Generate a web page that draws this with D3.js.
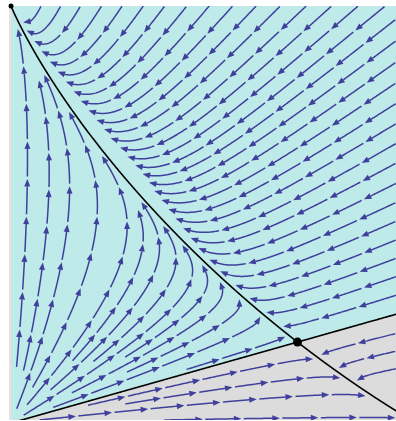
<!DOCTYPE html>
<html><head><meta charset="utf-8">
<script src="https://cdn.jsdelivr.net/npm/d3@7"></script>
<style>html,body{margin:0;padding:0;background:#fff;}svg{display:block}</style>
</head><body>
<script>
// Competitive Lotka–Volterra system
//   x' = x (growth[0] - competition[0][0] x - competition[0][1] y)
//   y' = y (growth[1] - competition[1][0] x - competition[1][1] y)
const growth = [1, 1];
const competition = [[0.95, 1.51], [1.083, 1]];
const xDomain = [0, 1];
const yDomain = [0, 1];
const attractor = [0, 1];

const colors = { basinA: "#bfeaea", basinB: "#dcdcdc", edge: "#f5dcdc", stream: "#3f3f9c", curve: "#000" };

const W = 396, H = 421;
const box = { left: 11, right: 396, top: 6, bottom: 420 };
const xScale = d3.scaleLinear().domain(xDomain).range([11, 396]);
const yScale = d3.scaleLinear().domain(yDomain).range([423, 6]);

function field(x, y) {
  const [r1, r2] = growth, [[a, b], [c, d]] = competition;
  return [x * (r1 - a * x - b * y), y * (r2 - c * x - d * y)];
}

// interior equilibrium (saddle)
const [[A, B], [C, D]] = competition;
const det = A * D - B * C;
const saddle = [(growth[0] * D - B * growth[1]) / det, (A * growth[1] - C * growth[0]) / det];

// Jacobian at the saddle and its eigenvectors
const J = [[-A * saddle[0], -B * saddle[0]], [-C * saddle[1], -D * saddle[1]]];
const tr = J[0][0] + J[1][1], dt = J[0][0] * J[1][1] - J[0][1] * J[1][0];
const disc = Math.sqrt(tr * tr / 4 - dt);
const lamU = tr / 2 + disc, lamS = tr / 2 - disc;
function eig(l) { const v = [-J[0][1], J[0][0] - l]; const m = Math.hypot(v[0], v[1]); return [v[0] / m, v[1] / m]; }
const vU = eig(lamU), vS = eig(lamS);

function rk4(p, h) {
  const f = (q) => field(q[0], q[1]);
  const k1 = f(p);
  const k2 = f([p[0] + h / 2 * k1[0], p[1] + h / 2 * k1[1]]);
  const k3 = f([p[0] + h / 2 * k2[0], p[1] + h / 2 * k2[1]]);
  const k4 = f([p[0] + h * k3[0], p[1] + h * k3[1]]);
  return [p[0] + h / 6 * (k1[0] + 2 * k2[0] + 2 * k3[0] + k4[0]), p[1] + h / 6 * (k1[1] + 2 * k2[1] + 2 * k3[1] + k4[1])];
}
function manifold(dir, sign) {
  const pts = [saddle.slice()];
  let p = [saddle[0] + 1e-4 * dir[0], saddle[1] + 1e-4 * dir[1]];
  for (let i = 0; i < 20000; i++) {
    pts.push(p);
    p = rk4(p, sign * 0.01);
    if (p[0] < -0.05 || p[0] > 1.1 || p[1] < -0.05 || p[1] > 1.1) { pts.push(p); break; }
    const s = field(p[0], p[1]);
    if (Math.hypot(s[0], s[1]) < 1e-6) break;
  }
  return pts;
}
const sgn = Math.sign(vU[0] || 1);
const unstableUp = manifold([-vU[0] * sgn, -vU[1] * sgn], 1);
const unstableDown = manifold([vU[0] * sgn, vU[1] * sgn], 1);
unstableUp.push(attractor);
const stableIn = manifold([-Math.abs(vS[0]), -Math.abs(vS[1])], -1);
const stableOut = manifold([Math.abs(vS[0]), Math.abs(vS[1])], -1);

const curveUnstable = unstableUp.slice().reverse().concat(unstableDown);
const curveStable = stableIn.slice().reverse().concat(stableOut);

// ---- drawing
const svg = d3.select("body").append("svg").attr("width", W).attr("height", H);
svg.append("defs").append("clipPath").attr("id", "clip")
  .append("rect").attr("x", box.left).attr("y", box.top)
  .attr("width", box.right - box.left).attr("height", box.bottom - box.top);

svg.append("rect").attr("x", box.left - 2).attr("y", box.top).attr("width", 2)
  .attr("height", box.bottom - box.top).attr("fill", colors.edge);

const g = svg.append("g").attr("clip-path", "url(#clip)");
g.append("rect").attr("x", box.left).attr("y", box.top)
  .attr("width", box.right - box.left).attr("height", box.bottom - box.top).attr("fill", colors.basinA);

const line = d3.line().x(d => xScale(d[0])).y(d => yScale(d[1]));
const lowerBasin = curveStable.concat([[1.2, curveStable[curveStable.length - 1][1]], [1.2, -0.1], [-0.1, -0.1]]);
g.append("path").attr("d", line(lowerBasin) + "Z").attr("fill", colors.basinB);

// ---- evenly spaced streamlines (computed in pixel space)
const sx = xScale(1) - xScale(0), sy = yScale(1) - yScale(0);
function pixDir(px, py) {
  const x = xScale.invert(px), y = yScale.invert(py);
  const [u, v] = field(x, y);
  const du = u * sx, dv = v * sy;
  return [du, dv, Math.hypot(du, dv)];
}
// proximity mask around the invariant curves and the invariant axis x = 0
const near = new Uint8Array(W * H);
function markCurve(pts, rad) {
  for (let i = 1; i < pts.length; i++) {
    const x0 = xScale(pts[i - 1][0]), y0 = yScale(pts[i - 1][1]);
    const x1 = xScale(pts[i][0]), y1 = yScale(pts[i][1]);
    const n = Math.max(1, Math.ceil(Math.hypot(x1 - x0, y1 - y0) * 2));
    for (let k = 0; k <= n; k++) {
      const x = x0 + (x1 - x0) * k / n, y = y0 + (y1 - y0) * k / n;
      for (let dx = -rad; dx <= rad; dx++) for (let dy = -rad; dy <= rad; dy++) {
        if (dx * dx + dy * dy > rad * rad) continue;
        const X = Math.round(x + dx), Y = Math.round(y + dy);
        if (X >= 0 && X < W && Y >= 0 && Y < H) near[Y * W + X] = 1;
      }
    }
  }
}
markCurve(curveUnstable, 3);
markCurve(curveStable, 3);
markCurve([[0, -0.05], [0, 1.05]], 5);

const dSep = 17, dTest = 7, speedMin = 2.0, minLen = 24;
const buckets = new Map();
const bkey = (i, j) => i * 4096 + j;
function addPoint(p) {
  const k = bkey(Math.floor(p[0] / dSep), Math.floor(p[1] / dSep));
  if (!buckets.has(k)) buckets.set(k, []);
  buckets.get(k).push(p);
}
function isClear(px, py, d) {
  const i = Math.floor(px / dSep), j = Math.floor(py / dSep), d2 = d * d;
  for (let a = i - 1; a <= i + 1; a++) for (let b = j - 1; b <= j + 1; b++) {
    const arr = buckets.get(bkey(a, b)); if (!arr) continue;
    for (const q of arr) { const ex = q[0] - px, ey = q[1] - py; if (ex * ex + ey * ey < d2) return false; }
  }
  return true;
}
const inBox = (x, y) => x >= box.left && x <= box.right && y >= box.top && y <= box.bottom;
function trace(px, py, sign) {
  const pts = [];
  for (let i = 0; i < 1500; i++) {
    const d1 = pixDir(px, py); if (d1[2] < speedMin) break;
    const mx = px + 0.5 * sign * d1[0] / d1[2], my = py + 0.5 * sign * d1[1] / d1[2];
    const d2 = pixDir(mx, my); if (d2[2] < speedMin) break;
    const qx = px + sign * d2[0] / d2[2], qy = py + sign * d2[1] / d2[2];
    if (!inBox(qx, qy)) break;
    if (near[Math.round(qy) * W + Math.round(qx)]) break;
    if (!isClear(qx, qy, dTest)) break;
    px = qx; py = qy; pts.push([px, py]);
  }
  return pts;
}
const streams = [];
function tryStream(px, py) {
  if (!inBox(px, py)) return null;
  if (near[Math.round(py) * W + Math.round(px)]) return null;
  if (!isClear(px, py, dSep)) return null;
  const d0 = pixDir(px, py); if (d0[2] < speedMin) return null;
  const fwd = trace(px, py, 1), bwd = trace(px, py, -1);
  const pts = bwd.reverse().concat([[px, py]], fwd);
  let len = 0;
  for (let k = 1; k < pts.length; k++) len += Math.hypot(pts[k][0] - pts[k - 1][0], pts[k][1] - pts[k - 1][1]);
  if (len < minLen) return null;
  pts.forEach(addPoint);
  const s = { pts, len };
  streams.push(s);
  return s;
}
function grow(s) {
  const queue = [s];
  while (queue.length) {
    const cur = queue.shift();
    const p = cur.pts;
    for (let k = 0; k < p.length; k += 4) {
      const a = p[Math.max(0, k - 1)], b = p[Math.min(p.length - 1, k + 1)];
      let tx = b[0] - a[0], ty = b[1] - a[1]; const tm = Math.hypot(tx, ty) || 1; tx /= tm; ty /= tm;
      for (const side of [1, -1]) {
        const ns = tryStream(p[k][0] - side * ty * dSep, p[k][1] + side * tx * dSep);
        if (ns) queue.push(ns);
      }
    }
  }
}
const seedStep = 8;
for (let y = box.top + seedStep / 2; y < box.bottom; y += seedStep)
  for (let x = box.left + seedStep / 2; x < box.right; x += seedStep) {
    const s = tryStream(x, y);
    if (s) grow(s);
  }

// split each stream into a chain of arrows
const segTarget = 37, gap = 2.5, headLen = 7.5, headHalf = 3;
const sg = g.append("g");
function pointAt(pts, cum, s) {
  let k = d3.bisectLeft(cum, s);
  k = Math.max(1, Math.min(pts.length - 1, k));
  const t = (s - cum[k - 1]) / ((cum[k] - cum[k - 1]) || 1);
  return [pts[k - 1][0] + t * (pts[k][0] - pts[k - 1][0]), pts[k - 1][1] + t * (pts[k][1] - pts[k - 1][1]), k];
}
for (const s of streams) {
  const pts = s.pts, cum = [0];
  for (let k = 1; k < pts.length; k++) cum.push(cum[k - 1] + Math.hypot(pts[k][0] - pts[k - 1][0], pts[k][1] - pts[k - 1][1]));
  const n = Math.max(1, Math.round(s.len / segTarget));
  const L = s.len / n;
  for (let m = 0; m < n; m++) {
    const s0 = m * L + (m ? gap : 0), s1 = (m + 1) * L;
    const tip = pointAt(pts, cum, s1);
    const base = pointAt(pts, cum, Math.max(s0, s1 - headLen));
    const seg = [];
    const a = pointAt(pts, cum, s0);
    seg.push([a[0], a[1]]);
    for (let k = a[2]; k < pts.length && cum[k] < s1 - headLen + 1; k++) seg.push(pts[k]);
    seg.push([base[0], base[1]]);
    sg.append("path").attr("d", d3.line()(seg)).attr("fill", "none")
      .attr("stroke", colors.stream).attr("stroke-width", 1.5).attr("stroke-linecap", "butt");
    let ux = tip[0] - base[0], uy = tip[1] - base[1];
    const um = Math.hypot(ux, uy) || 1; ux /= um; uy /= um;
    const bx = tip[0] - ux * headLen, by = tip[1] - uy * headLen;
    sg.append("path").attr("d", `M${tip[0]},${tip[1]}L${bx - uy * headHalf},${by + ux * headHalf}L${bx + uy * headHalf},${by - ux * headHalf}Z`)
      .attr("fill", colors.stream);
  }
}

// invariant curves
g.append("path").attr("d", line(curveUnstable)).attr("fill", "none").attr("stroke", colors.curve).attr("stroke-width", 1.6);
g.append("path").attr("d", line(curveStable)).attr("fill", "none").attr("stroke", colors.curve).attr("stroke-width", 1.6);

svg.append("circle").attr("cx", xScale(saddle[0])).attr("cy", yScale(saddle[1])).attr("r", 4.5).attr("fill", "#000");
svg.append("circle").attr("cx", xScale(attractor[0])).attr("cy", yScale(attractor[1])).attr("r", 2.5).attr("fill", "#000");
</script>
</body></html>
